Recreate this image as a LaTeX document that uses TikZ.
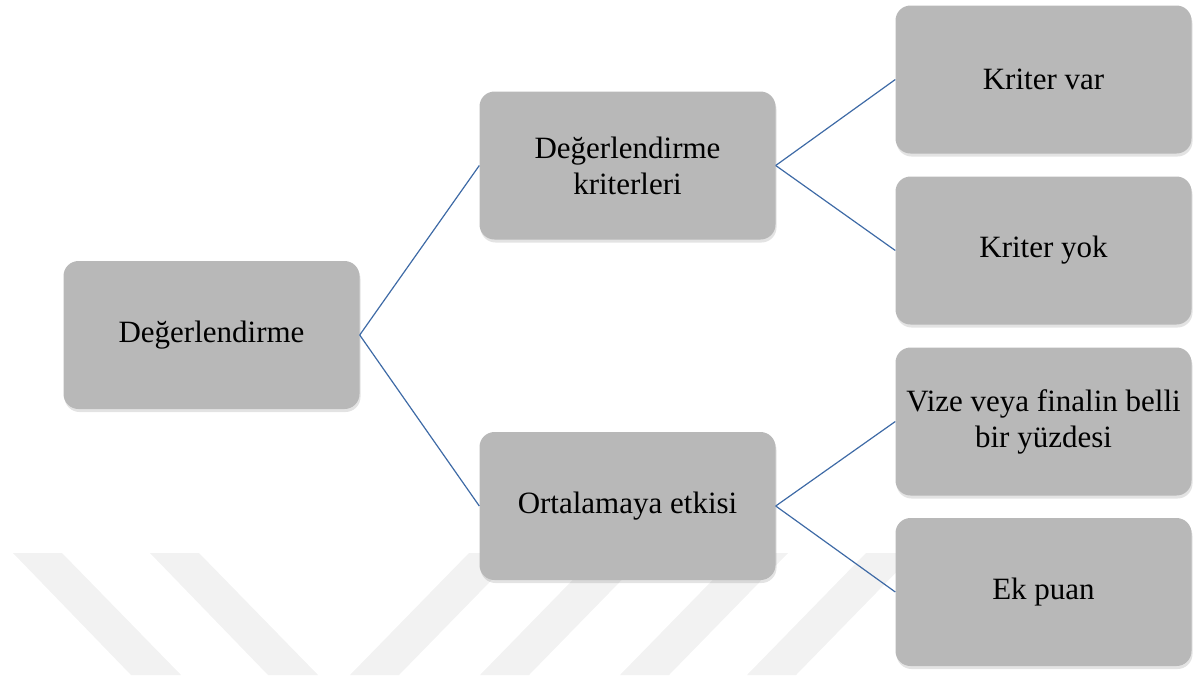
\documentclass[tikz,border=0pt]{standalone}
\usepackage{fontspec}
\setmainfont{LiberationSerif}[Extension=.ttf, UprightFont=*-Regular, BoldFont=*-Bold]
\usepackage{tikz}
\usetikzlibrary{shadows}

\definecolor{boxgray}{RGB}{184,184,184}
\definecolor{wmark}{RGB}{242,242,242}
\definecolor{linkblue}{RGB}{62,106,166}

\tikzset{
  catbox/.style={rectangle, rounded corners=15pt, fill=boxgray, draw=none,
    minimum width=296pt, minimum height=148pt, inner sep=2pt, align=center,
    font=\fontsize{31}{36}\selectfont,
    drop shadow={opacity=0.22, shadow xshift=1pt, shadow yshift=-3pt}},
  link/.style={draw=linkblue, line width=1.2pt}
}

\begin{document}
\begin{tikzpicture}[x=1pt,y=-1pt]
\useasboundingbox (0,0) rectangle (1201,675);
% watermark stripes
\foreach \x in {13,150}
	{
	\fill [wmark] (\x,553) -- (49+\x,553) -- (168+\x,675) -- (118+\x,675) -- cycle;
	}
\foreach \x in {350,480,620,747}
	{
	\fill [wmark] (\x,675) -- (49+\x,675) -- (168+\x,553) -- (119+\x,553) -- cycle;
	}
% boxes
\node [catbox] (deg) at (211.5,335) {Değerlendirme};
\node [catbox] (kri) at (627.5,165.5) {Değerlendirme\\kriterleri};
\node [catbox] (ort) at (627.5,506) {Ortalamaya etkisi};
\node [catbox] (var) at (1043.5,79.5) {Kriter var};
\node [catbox] (yok) at (1043.5,250.5) {Kriter yok};
\node [catbox] (viz) at (1043.5,421.5) {Vize veya finalin belli\\bir yüzdesi};
\node [catbox] (ek) at (1043.5,592) {Ek puan};
% links
\draw [link] (deg.east) -- (kri.west);
\draw [link] (deg.east) -- (ort.west);
\draw [link] (kri.east) -- (var.west);
\draw [link] (kri.east) -- (yok.west);
\draw [link] (ort.east) -- (viz.west);
\draw [link] (ort.east) -- (ek.west);
\end{tikzpicture}
\end{document}
